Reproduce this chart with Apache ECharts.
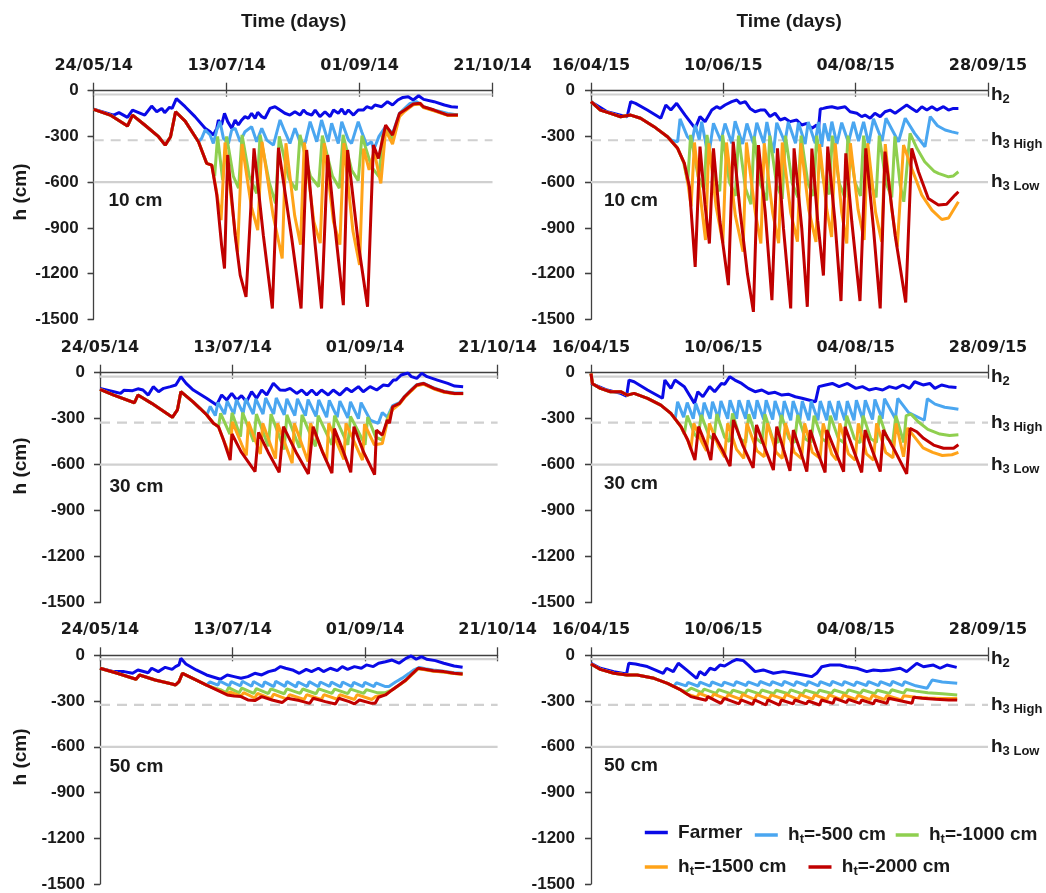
<!DOCTYPE html>
<html><head><meta charset="utf-8">
<script src="https://cdn.jsdelivr.net/npm/echarts@6/dist/echarts.min.js"></script>
<style>html,body{margin:0;padding:0;background:#fff}#c{width:1046px;height:893px}</style>
</head><body><div id="c"></div>
<script>
// ---------------- DATA ----------------
const LABELS_2014 = ['24/05/14','13/07/14','01/09/14','21/10/14'];
const LABELS_2015 = ['16/04/15','10/06/15','04/08/15','28/09/15'];
const STEP_2014 = 50, STEP_2015 = 55;
const Y_TICKS = [0,-300,-600,-900,-1200,-1500];
const SERIES_NAMES = ['Farmer','h_t=-500 cm','h_t=-1000 cm','h_t=-1500 cm','h_t=-2000 cm'];
const DEPTH_LABELS = ['10 cm','30 cm','50 cm'];
const REF_LEVELS = [-25,-325,-600];
const REF_TEXT = ['{b|h}{s|2}','{b|h}{s|3 High}','{b|h}{s|3 Low}'];

// Panel 1: 10 cm, 2014  [day, h]
const P1_FARMER = [[0,-122],[7.5,-160],[9.5,-144],[12.7,-175],[14.6,-127],[19.2,-160],[21.8,-101],[23.7,-138],[25.6,-116],[26.7,-144],[28.5,-109],[29.5,-116],[31.1,-52],[34.4,-105],[38.1,-170],[41.9,-247],[43.8,-269],[45,-291],[46.3,-247],[46.9,-192],[48.1,-225],[49.2,-148],[50.4,-203],[51.9,-247],[53.2,-192],[54.4,-225],[55.7,-192],[56.9,-170],[58.2,-181],[59.4,-148],[60.7,-181],[61.7,-142],[63.2,-170],[64.4,-181],[66.3,-116],[68.2,-105],[70.1,-127],[71.9,-148],[73.8,-160],[75.7,-138],[77.6,-160],[78.9,-127],[80.1,-148],[82,-160],[83.3,-127],[85.1,-170],[87,-138],[88.9,-170],[90.2,-127],[92,-148],[93.3,-120],[94.5,-155],[95.8,-127],[97.7,-160],[99.5,-127],[101.4,-127],[102.7,-105],[104.5,-116],[105.8,-94],[108.3,-105],[110.5,-72],[112.4,-94],[114.4,-61],[116.3,-44],[118.3,-39],[120.2,-61],[122.2,-33],[124.1,-57],[128,-72],[131.9,-94],[134.5,-105],[137,-109]];
const P1_START = [[0,-122],[6.2,-160],[12.7,-232],[14.6,-160],[19.2,-225],[24.4,-302],[26.9,-357],[28.9,-302],[30.8,-138],[34.4,-200],[39.4,-335]];
const P1_H500 = [[40.6,-313],[41.9,-258],[43.8,-291],[45,-346],[46.3,-258],[47.5,-203],[48.8,-313],[50.7,-346],[51.9,-258],[53.2,-247],[55.1,-335],[56.9,-269],[59.4,-236],[61.3,-335],[63.2,-247],[65.1,-324],[67.6,-357],[70.1,-192],[71.9,-269],[73.8,-346],[75.7,-247],[77.6,-335],[79.5,-346],[81.4,-203],[83.9,-335],[85.7,-192],[88.2,-335],[89.5,-214],[92,-346],[93.3,-203],[95.8,-324],[97,-346],[99.5,-203],[100.8,-269],[102.7,-357],[104.5,-335],[105.3,-389],[107.3,-300],[109.8,-236],[112.4,-280],[115,-149],[117,-116],[119,-83],[121.5,-72],[124,-105],[128,-127],[133.2,-149],[137,-160]];
const P1_H1000 = [[42.5,-477],[44.4,-488],[45.5,-560],[46.6,-300],[48.5,-586],[50,-300],[52.5,-560],[54.5,-640],[55.8,-290],[58.5,-560],[61.3,-674],[62.6,-290],[66,-600],[68.4,-739],[69.8,-300],[73.5,-580],[76.2,-652],[77.6,-290],[81.5,-560],[84.6,-630],[86,-295],[89.8,-560],[92.4,-640],[93.8,-290],[97,-520],[99.5,-590],[100.9,-295],[104.5,-500],[107.3,-564],[108.6,-300],[110.5,-250],[112.4,-320],[115,-160],[117,-125],[120.2,-90],[122.8,-85],[124,-108],[128,-130],[133.2,-160],[137,-160]];
const P1_H1500 = [[42.5,-477],[44.4,-488],[46,-640],[47.9,-849],[49.4,-340],[51.8,-720],[54.1,-1060],[55.8,-350],[59.3,-760],[61.7,-915],[63.3,-335],[67.5,-820],[70.9,-1100],[72.3,-345],[75.6,-820],[77.8,-1010],[79.2,-340],[82.8,-860],[85.2,-1000],[86.7,-345],[90.2,-860],[92.6,-1010],[94.1,-345],[97.5,-920],[100,-1144],[101.5,-380],[103.6,-520],[105.5,-400],[108,-608],[109.8,-260],[112.4,-350],[115,-170],[117,-135],[120.2,-92],[122.8,-88],[124,-110],[128,-132],[133.2,-162],[137,-162]];
const P1_H2000 = [[42.5,-477],[44.4,-488],[46.3,-685],[48.1,-1013],[49.2,-1167],[50.4,-422],[53.2,-948],[55.1,-1210],[57.3,-1353],[60.3,-378],[63.8,-948],[67.2,-1429],[69.5,-374],[74.5,-970],[78,-1429],[80.1,-389],[83.3,-1013],[85.7,-1429],[88,-422],[90.8,-904],[93.9,-1407],[95.5,-389],[99.6,-1013],[103,-1418],[105.2,-357],[107.1,-444],[109.8,-225],[112.4,-291],[115,-149],[117,-127],[120.2,-87],[122.8,-83],[124,-105],[128,-127],[133.2,-160],[137,-160]];

// Panel 2: 10 cm, 2015
const P2_FARMER = [[0,-72],[3.9,-110],[6.7,-138],[12.3,-160],[15,-171],[16.5,-72],[18.5,-83],[23.4,-127],[29,-181],[31.1,-94],[33.2,-127],[35.6,-83],[39.1,-160],[43.3,-247],[45.3,-170],[47.4,-203],[50.2,-127],[52.2,-105],[53.6,-116],[55.7,-94],[58.5,-72],[60.6,-61],[62,-83],[64.1,-72],[66.1,-116],[68.2,-138],[70.3,-127],[72.3,-127],[74.4,-170],[76.5,-148],[78.6,-192],[80.6,-181],[82.7,-203],[85.5,-192],[87.6,-225],[89.7,-214],[91.8,-247],[93.8,-225],[94.5,-260],[95.3,-120],[96.6,-116],[98,-110],[100.1,-105],[102.5,-115],[105.6,-105],[107.7,-138],[110.5,-148],[112.5,-170],[113.9,-160],[116,-181],[118,-148],[120.2,-170],[122.2,-138],[124.3,-127],[126.4,-148],[129.2,-116],[131.2,-94],[133.3,-116],[135.4,-138],[137.5,-105],[139.6,-127],[141.7,-105],[143.7,-127],[146.5,-105],[148.6,-127],[150.6,-116],[152.7,-116]];
const P2_START = [[0,-72],[3.9,-127],[8.1,-149],[12.3,-171],[16.5,-160],[20.6,-181],[26.2,-236],[31.8,-302]];
const P2_H500 = [[33.5,-325],[36,-335],[37,-185],[40,-300],[42,-335],[43.3,-225],[45,-320],[46,-203],[48.8,-440],[50.9,-214],[54,-330],[55.7,-215],[58.5,-345],[59.9,-200],[63,-350],[64.8,-215],[67.5,-345],[68.9,-210],[71.8,-345],[73.1,-205],[75.8,-410],[77.2,-210],[80.6,-340],[82,-205],[85,-345],[86.2,-210],[89,-350],[90.3,-205],[93.2,-345],[94.5,-205],[95.9,-368],[97,-215],[98.8,-330],[100.1,-203],[102.2,-350],[104.2,-210],[107,-340],[109.1,-205],[111.2,-330],[113.3,-205],[115.4,-350],[117.4,-185],[121,-330],[122.6,-181],[127.8,-335],[130.6,-181],[134.5,-280],[138.8,-368],[141,-170],[144,-230],[147.2,-258],[150,-270],[152.7,-280]];
const P2_H1000 = [[36,-378],[38.5,-470],[40.2,-598],[41.4,-290],[44.5,-560],[47,-650],[48.2,-290],[51.2,-580],[53.5,-660],[54.7,-290],[57.5,-600],[60,-690],[61.3,-295],[64.2,-640],[66.5,-745],[67.8,-300],[70.6,-620],[73,-720],[74.3,-295],[77.2,-620],[79.5,-710],[80.8,-295],[83.7,-610],[86,-700],[87.3,-295],[90.2,-610],[92.5,-690],[93.8,-295],[96.7,-600],[99,-680],[100.3,-295],[103.2,-610],[105.5,-700],[106.8,-295],[109.7,-600],[112,-690],[113.3,-295],[116.2,-610],[118.5,-700],[119.8,-295],[122.7,-610],[125,-700],[126.3,-300],[128.5,-620],[130,-729],[132.6,-280],[135.5,-380],[138.7,-466],[142.7,-530],[144.4,-542],[148.6,-565],[150.5,-560],[152.7,-532]];
const P2_H1500 = [[36,-378],[38.8,-477],[40.2,-600],[41.6,-760],[43,-340],[45.5,-700],[47.6,-980],[49,-345],[52,-760],[54.8,-1000],[56.3,-340],[60,-820],[63.2,-1057],[64.6,-340],[68.3,-800],[70.6,-1003],[72,-345],[75.5,-800],[78,-1000],[79.5,-340],[83,-800],[85.8,-990],[87.2,-345],[90.5,-780],[93.5,-992],[95,-350],[98,-780],[100,-960],[101.5,-345],[104.2,-800],[106.3,-1003],[107.8,-345],[111,-780],[113.5,-980],[115,-345],[118.3,-800],[120.8,-990],[122.3,-350],[125,-780],[127.3,-1024],[129.9,-357],[133.3,-510],[137.5,-685],[141.7,-784],[145.8,-845],[148.6,-835],[152.7,-729]];
const P2_H2000 = [[36,-378],[38.8,-477],[40.9,-630],[42.3,-936],[43.3,-1156],[45.3,-367],[47.4,-750],[49.2,-1003],[50.9,-378],[53.6,-860],[57.1,-1276],[59.1,-335],[62,-795],[65,-1200],[67.5,-1451],[69.6,-357],[72.4,-795],[75.2,-1375],[77.5,-378],[80,-904],[83,-1429],[84.4,-378],[87.6,-904],[89.9,-1418],[91.8,-380],[94.2,-850],[96.6,-1213],[98.4,-367],[101.4,-860],[103.9,-1380],[105.9,-411],[108.4,-860],[111.8,-1380],[114.2,-378],[117.4,-904],[120.2,-1429],[122.2,-400],[126.4,-948],[130.8,-1390],[133.3,-378],[136.1,-532],[140.2,-707],[144.4,-750],[147.8,-745],[151.3,-685],[152.7,-663]];

// Panel 3: 30 cm, 2014
const P3_FARMER = [[0,-102],[5.2,-124],[7.8,-135],[9,-115],[12.3,-117],[14.3,-105],[16.2,-113],[18.2,-146],[20.1,-91],[22.1,-124],[24,-102],[26.6,-91],[28.6,-80],[30.5,-26],[32.5,-70],[35.2,-113],[40.2,-167],[44,-211],[45.9,-145],[47.8,-178],[49.7,-135],[51.6,-178],[53.4,-150],[55.3,-189],[57.2,-124],[59.1,-167],[61,-113],[62.9,-145],[65.4,-69],[67.9,-113],[69.8,-115],[71.7,-102],[74.2,-135],[76.1,-113],[78,-145],[79.9,-113],[81.7,-145],[83.6,-113],[86.1,-145],[88,-113],[90.5,-145],[93,-102],[94.9,-124],[97.5,-91],[99.3,-124],[101.9,-91],[104.4,-113],[106.9,-80],[108.8,-85],[110.7,-48],[111.7,-48],[113.6,-15],[116.2,-2],[117.5,-26],[119.5,-37],[121.4,-4],[123.4,-26],[127.3,-48],[131.2,-70],[133.8,-87],[137,-91]];
const P3_START = [[0,-109],[5.2,-146],[13,-196],[14.3,-146],[19.5,-200],[27.3,-291],[29.2,-243],[30.5,-124],[35,-189],[37.7,-232],[40.3,-276]];
const P3_H500 = [[41.6,-220],[43.5,-280],[44.5,-195],[47,-270],[48,-185],[50.5,-270],[51.5,-175],[54,-265],[55,-170],[57.8,-270],[58.8,-170],[61.5,-270],[62.5,-165],[65.5,-270],[66.5,-165],[69.5,-275],[70.5,-170],[73.5,-280],[74.5,-170],[77.5,-280],[78.5,-175],[81.5,-285],[82.5,-178],[85.5,-290],[86.5,-180],[89.5,-290],[90.5,-185],[93.5,-295],[94.5,-190],[97.5,-300],[98.5,-195],[102,-310],[105,-330],[106.5,-260],[108.4,-290],[110.4,-215],[113,-195],[114.9,-155],[117.5,-110],[119.5,-78],[122,-68],[126,-100],[129.9,-122],[133.8,-133],[137,-133]];
const P3_H1000 = [[42.8,-330],[44.7,-352],[45.5,-265],[49,-400],[49.8,-262],[53,-417],[53.8,-260],[58,-450],[59,-270],[63.5,-480],[64.5,-270],[69.5,-500],[70.5,-275],[75.2,-490],[76.2,-275],[81.3,-480],[82.3,-280],[87.5,-470],[88.5,-280],[93.5,-470],[94.5,-285],[100,-470],[101,-290],[104,-420],[106.5,-440],[108.4,-300],[110.4,-225],[113,-200],[114.9,-158],[117.5,-115],[119.5,-82],[122,-72],[126,-104],[129.9,-126],[133.8,-136],[137,-136]];
const P3_H1500 = [[42.8,-330],[44.7,-352],[46.6,-439],[49.1,-540],[49.9,-320],[53.5,-470],[55.2,-540],[56,-320],[60.5,-530],[61.4,-330],[66.2,-560],[67,-330],[72.5,-590],[73.3,-330],[78.5,-580],[79.4,-330],[85.5,-575],[86.3,-330],[92,-565],[92.8,-330],[99,-570],[99.8,-335],[103.5,-470],[106.5,-462],[108.4,-320],[110.4,-240],[113,-205],[114.9,-162],[117.5,-118],[119.5,-85],[122,-75],[126,-106],[129.9,-128],[133.8,-138],[137,-138]];
const P3_H2000 = [[42.8,-330],[44.7,-352],[46.6,-439],[49.1,-570],[49.8,-400],[53.2,-515],[58.5,-645],[59.8,-390],[63.5,-520],[67.6,-650],[69.2,-352],[74,-520],[78.6,-660],[80.4,-352],[84,-520],[87.5,-655],[88.4,-365],[91.5,-500],[94.6,-650],[95.8,-352],[99.5,-520],[103.6,-665],[104.3,-374],[106.5,-407],[108.4,-309],[109.2,-330],[110.4,-222],[113,-200],[114.9,-157],[117.5,-113],[119.5,-80],[122,-70],[126,-102],[129.9,-124],[133.8,-135],[137,-135]];

// Panel 4: 30 cm, 2015
const P4_FARMER = [[0,-70],[6.7,-113],[12.3,-135],[14.8,-152],[15.8,-48],[17.9,-59],[23.5,-113],[29.7,-167],[30.7,-48],[33.2,-102],[34.9,-48],[38.8,-91],[43,-200],[44.4,-124],[46.5,-157],[49.3,-91],[51.4,-124],[54.2,-70],[55.6,-75],[57.7,-26],[59.8,-48],[62.6,-70],[65.4,-102],[68.2,-124],[71,-113],[73.7,-135],[76.5,-128],[79.3,-146],[82,-140],[84.9,-157],[87.7,-167],[90.5,-178],[93.3,-189],[94.7,-91],[97.5,-80],[100.3,-70],[103.1,-91],[106.6,-70],[110.1,-102],[112.8,-91],[115.6,-113],[118.4,-102],[121.2,-113],[124,-91],[126.8,-102],[129.6,-80],[132.4,-102],[134.5,-59],[138,-80],[140.8,-70],[142.9,-102],[145.7,-80],[148.5,-91],[151.9,-96]];
const P4_START = [[0,-5],[0.6,-72],[3.9,-102],[8.1,-124],[12.3,-124],[15.1,-146],[17.9,-135],[23.5,-167],[29,-211],[33.2,-265]];
const P4_H500 = [[35,-300],[36,-190],[38.5,-290],[40,-195],[42.5,-300],[43.5,-200],[46,-305],[47,-195],[49.5,-300],[50.5,-190],[53,-300],[54,-185],[56.8,-300],[57.8,-180],[60.5,-300],[61.5,-180],[64.3,-300],[65.3,-180],[68,-300],[69,-180],[71.8,-305],[72.8,-180],[75.5,-305],[76.5,-185],[79.3,-310],[80.3,-185],[83,-310],[84,-185],[86.8,-310],[87.8,-185],[90.5,-310],[91.5,-185],[94.3,-310],[95.3,-185],[98,-310],[99,-185],[101.8,-310],[102.8,-185],[105.5,-310],[106.5,-185],[109.3,-310],[110.3,-180],[113,-305],[114,-180],[117,-305],[118,-175],[121,-300],[122,-170],[126.5,-300],[127.5,-167],[132,-260],[138.5,-310],[139.8,-170],[143,-205],[147,-225],[150,-232],[152.7,-239]];
const P4_H1000 = [[37.4,-352],[38.8,-400],[40,-280],[43,-400],[44.5,-430],[45.8,-275],[49,-410],[51,-440],[52.3,-270],[55.5,-420],[57.5,-450],[58.8,-265],[62,-430],[64.3,-455],[65.6,-270],[68.8,-430],[71,-460],[72.3,-270],[75.5,-430],[77.8,-455],[79.1,-275],[82.3,-430],[84.6,-455],[85.9,-275],[89,-430],[91.4,-455],[92.7,-280],[96,-430],[98.2,-455],[99.5,-280],[102.8,-430],[105,-455],[106.3,-280],[109.5,-430],[111.8,-458],[113.1,-280],[116.3,-430],[118.6,-455],[119.9,-280],[123.1,-430],[125.4,-458],[126.7,-280],[130,-455],[131,-280],[133,-270],[136,-320],[140,-370],[145,-400],[149,-410],[152.7,-405]];
const P4_H1500 = [[37.4,-352],[40.2,-439],[41.5,-500],[42.7,-330],[46,-450],[48,-510],[49.2,-330],[53,-480],[55.5,-550],[56.8,-330],[60.5,-500],[63.5,-559],[64.8,-330],[69,-510],[72,-548],[73.3,-330],[77,-520],[79.5,-559],[80.8,-330],[84.5,-520],[87.5,-560],[88.8,-330],[92,-520],[95.2,-559],[96.5,-330],[100,-530],[102.1,-570],[103.4,-330],[107,-530],[109.8,-570],[111.1,-330],[114.5,-530],[117.4,-570],[118.7,-330],[122.5,-520],[125.5,-555],[126.8,-330],[129.9,-548],[131.5,-360],[135,-430],[138,-490],[142,-520],[146,-540],[150,-535],[152.7,-520]];
const P4_H2000 = [[37.4,-352],[40.2,-439],[43.2,-570],[44.7,-352],[48.1,-483],[49.8,-570],[50.9,-396],[54.5,-500],[57.8,-610],[59.2,-308],[63,-470],[67.4,-620],[68.8,-341],[72,-480],[75.8,-635],[77.2,-352],[80,-500],[82.7,-640],[84.1,-374],[87,-510],[89.7,-645],[91.1,-374],[94,-510],[97.3,-650],[98,-374],[101.5,-510],[105,-645],[105.6,-352],[109,-500],[112.5,-650],[113.9,-374],[117,-510],[120.2,-645],[121.5,-374],[126,-500],[131.2,-660],[132.6,-363],[135.4,-385],[138.2,-428],[142.4,-472],[146.5,-493],[150.7,-493],[152.7,-470]];

// Panel 5: 50 cm, 2014
const P5_FARMER = [[0,-85],[5.2,-107],[9.1,-107],[12.3,-118],[14.3,-96],[18.2,-114],[19.5,-85],[22,-107],[24.6,-79],[27.2,-92],[28.5,-74],[29.8,-63],[30.5,-20],[32.4,-57],[36.3,-96],[40.2,-129],[45.4,-157],[48,-129],[50.6,-140],[53.2,-151],[55.8,-140],[58.4,-118],[61,-129],[63.6,-107],[66.1,-96],[68.1,-74],[70,-85],[72.6,-96],[75.2,-118],[77.8,-92],[79.8,-107],[82.4,-85],[84.3,-107],[86.9,-85],[89.5,-101],[91.4,-74],[93.4,-92],[96,-74],[98.6,-85],[100.5,-63],[103.1,-74],[105.1,-52],[107.7,-42],[110.2,-31],[112.8,-52],[115.4,-20],[117.4,-4],[119.3,-26],[121.3,-9],[123.2,-26],[126.5,-35],[129.7,-52],[133.6,-70],[136.8,-79]];
const P5_START = [[0,-85],[6.5,-118],[13.6,-157],[14.9,-129],[20.8,-162],[27.2,-188],[28.5,-195],[29.8,-173],[31.1,-118],[35,-151],[40.2,-195]];
const P5_H500 = [[41.5,-175],[44.5,-195],[45.2,-170],[48.8,-200],[49.5,-172],[53,-200],[53.7,-170],[57.2,-203],[57.9,-172],[61.4,-206],[62.1,-174],[65.6,-205],[66.3,-170],[69.8,-204],[70.5,-172],[74,-207],[74.7,-175],[78.2,-205],[78.9,-173],[82.4,-206],[83.1,-175],[86.6,-204],[87.3,-176],[90.8,-207],[91.5,-175],[95,-205],[95.7,-177],[99.2,-206],[99.9,-178],[103.4,-205],[104.1,-181],[107.7,-205],[109,-205],[111.5,-175],[114,-150],[116.5,-120],[118.5,-95],[120.5,-80],[122.6,-88],[125.8,-96],[129.7,-104],[133.6,-114],[136.8,-118]];
const P5_H1000 = [[42.8,-212],[45.4,-225],[47.5,-245],[48.5,-212],[52.5,-246],[53.5,-215],[58,-250],[59,-218],[63.5,-251],[64.5,-220],[69.5,-252],[70.5,-220],[75.5,-250],[76.5,-221],[81.5,-252],[82.5,-220],[87.5,-250],[88.5,-222],[93.5,-251],[94.5,-222],[99.5,-250],[100.5,-225],[104.5,-245],[107.7,-245],[110.2,-226],[112.8,-196],[115.4,-163],[118,-120],[120,-87],[122.6,-94],[125.8,-103],[129.7,-109],[133.6,-119],[136.8,-123]];
const P5_H1500 = [[42.8,-215],[45.4,-235],[48,-255],[49,-240],[53.2,-268],[54.2,-245],[58.4,-280],[59.4,-250],[64.5,-285],[65.5,-255],[70.5,-288],[71.5,-258],[77,-290],[78,-258],[83.5,-290],[84.5,-258],[89.5,-288],[90.5,-258],[96,-290],[97,-258],[102.5,-290],[104,-270],[107.7,-258],[110.2,-228],[112.8,-197],[115.4,-165],[118,-121],[120,-88],[122.6,-95],[125.8,-104],[129.7,-110],[133.6,-120],[136.8,-124]];
const P5_H2000 = [[45.4,-238],[48,-260],[50.6,-267],[53.2,-271],[55.8,-293],[58.4,-297],[61,-271],[64.9,-293],[68.7,-310],[70.7,-282],[75.2,-297],[79.1,-315],[80.4,-282],[85,-304],[88.8,-319],[90.1,-282],[94,-304],[96,-319],[97.9,-293],[102.5,-315],[103.8,-315],[105.1,-275],[107.7,-260],[110.2,-227],[112.8,-195],[115.4,-162],[118,-118],[120,-85],[122.6,-92],[125.8,-101],[129.7,-107],[133.6,-118],[136.8,-122]];

// Panel 6: 50 cm, 2015
const P6_FARMER = [[0,-52],[3.9,-85],[9.5,-107],[14.8,-122],[15.7,-52],[18.5,-57],[20.4,-64],[23.4,-74],[30,-118],[31.4,-85],[34.2,-107],[36.3,-52],[39.7,-96],[43.9,-151],[45.2,-107],[47.3,-129],[49.5,-85],[51.5,-96],[53.6,-64],[55.5,-70],[58.5,-42],[60.6,-27],[63.3,-35],[65.4,-64],[68.2,-107],[71.6,-96],[75.8,-118],[79.9,-107],[84.1,-118],[88.2,-129],[91.7,-140],[93.8,-118],[95.9,-75],[99.4,-64],[103.5,-64],[106.3,-75],[110.5,-85],[114.6,-107],[117.4,-96],[120.5,-101],[124.3,-96],[128.5,-85],[131.2,-107],[135.4,-53],[138.2,-75],[142.3,-64],[145.1,-85],[147.9,-64],[152,-79]];
const P6_START = [[0,-57],[3.9,-92],[9.5,-118],[15,-129],[19.2,-129],[26.2,-151],[31.8,-184]];
const P6_H500 = [[34.5,-205],[35.5,-180],[39.5,-201],[40.3,-178],[44.5,-203],[45.3,-176],[49.5,-202],[50.3,-175],[54.5,-200],[55.3,-176],[59.5,-199],[60.3,-172],[64.5,-198],[65.3,-174],[69.5,-199],[70.3,-172],[74.5,-197],[75.3,-173],[79.5,-198],[80.3,-171],[84.5,-199],[85.3,-173],[89.5,-198],[90.3,-172],[94.5,-200],[95.3,-173],[99.5,-198],[100.3,-171],[104.5,-197],[105.3,-172],[109.5,-199],[110.3,-174],[114.5,-198],[115.3,-172],[119.5,-199],[120.3,-173],[124.5,-198],[125.3,-171],[129.5,-199],[130.3,-173],[135,-200],[139.7,-216],[141.8,-162],[146,-175],[152.2,-184]];
const P6_H1000 = [[37.3,-227],[39.5,-240],[41.6,-216],[46,-245],[47,-222],[52,-250],[53,-225],[58,-251],[59,-228],[64,-252],[65,-227],[70,-253],[71,-228],[76,-251],[77,-229],[82,-252],[83,-227],[88,-253],[89,-228],[94,-252],[95,-229],[100,-250],[101,-228],[106,-251],[107,-227],[112,-250],[113,-228],[118,-251],[119,-229],[124,-250],[125,-226],[130,-248],[131,-225],[135,-235],[140,-245],[146,-252],[152.2,-260]];
const P6_H1500 = [[37.3,-227],[40,-255],[44,-275],[45,-250],[50,-280],[51,-255],[56,-285],[57,-258],[62,-288],[63,-257],[68,-289],[69,-258],[74,-287],[75,-259],[80,-288],[81,-257],[86,-289],[87,-258],[92,-288],[93,-259],[98,-290],[99,-260],[104,-291],[105,-260],[110,-290],[111,-262],[116,-291],[117,-262],[122,-290],[123,-263],[129,-292],[130,-265],[135,-275],[140,-280],[146,-283],[152.2,-283]];
const P6_H2000 = [[37.3,-227],[41.5,-271],[44.3,-282],[47.8,-295],[48.5,-271],[54,-315],[55.4,-282],[61.5,-318],[62.4,-293],[67.2,-322],[68,-293],[72.7,-326],[73.5,-293],[78.3,-326],[79.1,-293],[84,-319],[84.7,-293],[89.5,-319],[90.3,-300],[95,-326],[95.8,-293],[100.6,-315],[101.4,-282],[106.2,-310],[106.9,-289],[111.8,-315],[112.5,-293],[117.4,-319],[118.1,-293],[123,-315],[123.7,-282],[133.4,-315],[134.1,-275],[137.6,-282],[143.2,-289],[148.7,-293],[152.2,-293]];

// ---------------- LAYOUT / STYLE ----------------
const FONT = '"Liberation Sans", Arial, sans-serif';
const TXT = '#1a1a1a';
const AX = '#404040';
const COLORS = ['#0a0ae6','#4aa6f0','#8fcf4f','#ffa319','#c00000'];
const GRIDS = [
  {left:93.7, top:90.7, width:398.8, height:228.6},
  {left:591,  top:90.7, width:397,   height:228.6},
  {left:100,  top:372.7, width:397.6, height:230},
  {left:591,  top:372.7, width:397,   height:230},
  {left:100,  top:655.3, width:397.6, height:228.7},
  {left:591,  top:655.3, width:397,   height:228.7}
];
const PANELS = [
  {labels:LABELS_2014, step:STEP_2014, col:0, farmer:P1_FARMER, start:P1_START, t:[P1_H500,P1_H1000,P1_H1500,P1_H2000]},
  {labels:LABELS_2015, step:STEP_2015, col:1, farmer:P2_FARMER, start:P2_START, t:[P2_H500,P2_H1000,P2_H1500,P2_H2000]},
  {labels:LABELS_2014, step:STEP_2014, col:0, farmer:P3_FARMER, start:P3_START, t:[P3_H500,P3_H1000,P3_H1500,P3_H2000]},
  {labels:LABELS_2015, step:STEP_2015, col:1, farmer:P4_FARMER, start:P4_START, t:[P4_H500,P4_H1000,P4_H1500,P4_H2000]},
  {labels:LABELS_2014, step:STEP_2014, col:0, farmer:P5_FARMER, start:P5_START, t:[P5_H500,P5_H1000,P5_H1500,P5_H2000]},
  {labels:LABELS_2015, step:STEP_2015, col:1, farmer:P6_FARMER, start:P6_START, t:[P6_H500,P6_H1000,P6_H1500,P6_H2000]}
];
const RICH = {
  b: {fontFamily:FONT, fontWeight:'bold', fontSize:19, color:TXT, lineHeight:22},
  s: {fontFamily:FONT, fontWeight:'bold', fontSize:13, color:TXT, lineHeight:14, padding:[10,0,0,0], verticalAlign:'bottom'}
};

const yMin = Math.min(...Y_TICKS), yMax = Math.max(...Y_TICKS), yStep = Y_TICKS[0]-Y_TICKS[1];
const opt = {animation:false, backgroundColor:'#ffffff', grid:[], xAxis:[], yAxis:[], series:[], legend:[], graphic:{elements:[]}};

PANELS.forEach((p,i) => {
  const g = GRIDS[i];
  opt.grid.push({left:g.left, top:g.top, width:g.width, height:g.height, containLabel:false});
  const xmax = p.step*(p.labels.length-1);
  const bx = {gridIndex:i, type:'value', position:'top', min:0, max:xmax, interval:p.step, splitLine:{show:false}};
  opt.xAxis.push(Object.assign({}, bx, {
    axisLine:{show:true, onZero:false, lineStyle:{color:AX, width:1.3}},
    axisTick:{show:true, length:8, lineStyle:{color:AX, width:1.3}},
    axisLabel:{show:true, margin:17, showMinLabel:true, showMaxLabel:true,
      formatter: v => p.labels[Math.round(v/p.step)],
      color:TXT, fontFamily:'"DejaVu Sans", sans-serif', fontWeight:'bold', fontSize:16}
  }));
  opt.xAxis.push(Object.assign({}, bx, {
    axisLine:{show:false}, axisTick:{show:true, inside:true, length:6, lineStyle:{color:AX, width:1.3}}, axisLabel:{show:false}
  }));
  const by = {gridIndex:i, type:'value', min:yMin, max:yMax, interval:yStep, splitLine:{show:false}};
  opt.yAxis.push(Object.assign({}, by, {
    axisLine:{show:true, onZero:false, lineStyle:{color:AX, width:1.3}},
    axisTick:{show:true, length:6, lineStyle:{color:AX, width:1.3}},
    axisLabel:{show:true, margin:p.col ? 16 : 15, formatter: v => String(v), color:TXT, fontFamily:FONT, fontWeight:'bold', fontSize:17}
  }));
  opt.yAxis.push(Object.assign({}, by, {
    axisLine:{show:false}, axisTick:{show:true, inside:true, length:6, lineStyle:{color:AX, width:1.3}}, axisLabel:{show:false}
  }));
  REF_LEVELS.forEach((lvl,k) => {
    opt.series.push({type:'line', xAxisIndex:2*i, yAxisIndex:2*i, z:1, silent:true, symbol:'none', showSymbol:false,
      data:[[0,lvl],[xmax,lvl]],
      lineStyle:{color:'#d0d0d0', width:2.2, type: k===1 ? [10,7] : 'solid'},
      emphasis:{disabled:true},
      endLabel:{show: p.col===1, distance:3, formatter: () => REF_TEXT[k], rich: RICH}
    });
  });
  const all = [p.farmer].concat(p.t.map(a => p.start.concat(a)));
  all.forEach((d,s) => {
    opt.series.push({name:SERIES_NAMES[s], type:'line', xAxisIndex:2*i, yAxisIndex:2*i, z:2, symbol:'none', showSymbol:false,
      data:d, lineStyle:{color:COLORS[s], width:3}, itemStyle:{color:COLORS[s]}, emphasis:{disabled:true}});
  });
});

// legends (one per item to match the reference placement)
const LEG_POS = [[644.8,823],[754.8,823],[895.7,823],[644.8,855],[808.5,855]];
SERIES_NAMES.forEach((nm,s) => {
  opt.legend.push({data:[nm], left:LEG_POS[s][0], top:LEG_POS[s][1], padding:0, icon:'rect', itemWidth:23, itemHeight:3.5,
    selectedMode:false,
    formatter: n => n === 'Farmer' ? '{b| Farmer}' : '{b| h}{s|t}{b|' + n.slice(3) + '}',
    textStyle:{color:TXT, fontFamily:FONT, fontWeight:'bold', fontSize:19, rich:RICH}});
});

function txt(text, x, y, align, rot) {
  return {type:'text', x:x, y:y, rotation: rot || 0, silent:true,
    style:{text:text, font:'bold 19px ' + FONT, fill:TXT, textAlign:align, align:align, textVerticalAlign:'middle', verticalAlign:'middle'}};
}
const E = opt.graphic.elements;
E.push(txt('Time (days)', 293.6, 21.7, 'center'));
E.push(txt('Time (days)', 789.2, 21.7, 'center'));
E.push(txt('h (cm)', 20.5, 192, 'center', Math.PI/2));
E.push(txt('h (cm)', 20.5, 466, 'center', Math.PI/2));
E.push(txt('h (cm)', 20.5, 757, 'center', Math.PI/2));
E.push(txt(DEPTH_LABELS[0], 108.5, 201, 'left'));
E.push(txt(DEPTH_LABELS[0], 604, 200.7, 'left'));
E.push(txt(DEPTH_LABELS[1], 109.5, 486.7, 'left'));
E.push(txt(DEPTH_LABELS[1], 604, 484, 'left'));
E.push(txt(DEPTH_LABELS[2], 109.5, 766.7, 'left'));
E.push(txt(DEPTH_LABELS[2], 604, 766, 'left'));

const chart = echarts.init(document.getElementById('c'), null, {renderer:'canvas', width:1046, height:893});
chart.setOption(opt);
</script></body></html>
